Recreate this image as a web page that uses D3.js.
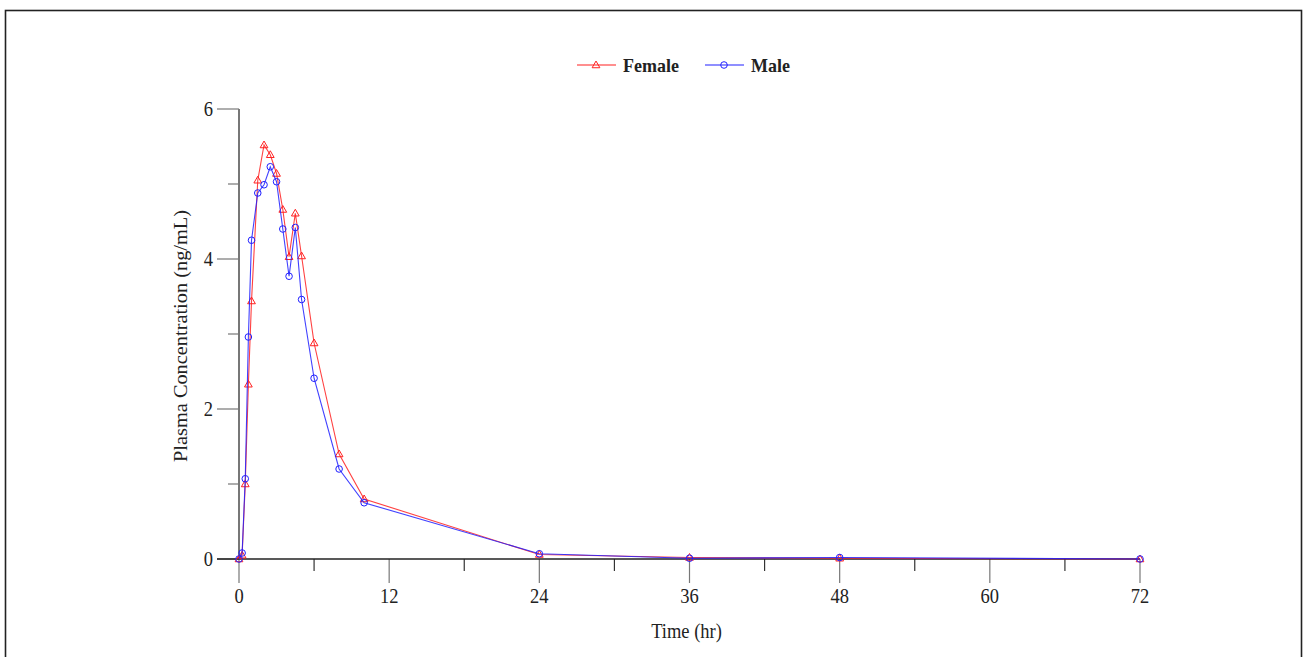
<!DOCTYPE html>
<html>
<head>
<meta charset="utf-8">
<script src="https://cdn.jsdelivr.net/npm/d3@7"></script>
<style>
  body { margin: 0; background: #fff; }
  text { font-family: "Liberation Serif", "Times New Roman", serif; fill: #222; }
</style>
</head>
<body>
<div id="chart"></div>
<script>
// sampling times (hr)
var times = [0, 0.25, 0.5, 0.75, 1, 1.5, 2, 2.5, 3, 3.5, 4, 4.5, 5, 6, 8, 10, 24, 36, 48, 72];
var female = [0, 0.05, 1.0, 2.33, 3.44, 5.05, 5.52, 5.39, 5.14, 4.66, 4.03, 4.61, 4.04, 2.88, 1.4, 0.8, 0.06, 0.02, 0.01, 0];
var male = [0, 0.08, 1.07, 2.96, 4.25, 4.88, 4.99, 5.23, 5.03, 4.4, 3.77, 4.42, 3.46, 2.41, 1.2, 0.75, 0.07, 0.01, 0.02, 0];
var xTicks = [0, 12, 24, 36, 48, 60, 72];
var yTicks = [0, 2, 4, 6];
var series = [
  {name: "Female", values: female, color: "#ff2020", marker: "triangle"},
  {name: "Male", values: male, color: "#2020ff", marker: "circle"}
];

var W = 1303, H = 657;
var FS = 18.5, STRETCH = 1.1;
var svg = d3.select("#chart").append("svg").attr("width", W).attr("height", H);

// text is slightly taller than wide in the source picture
function label(px, py, str, anchor, opts) {
  opts = opts || {};
  var g = svg.append("g").attr("transform", "translate(" + px + "," + py + ")" + (opts.rotate ? " rotate(-90) scale(" + STRETCH + ",1)" : " scale(1," + STRETCH + ")"));
  var t = g.append("text").attr("text-anchor", anchor).attr("font-size", opts.size || FS).text(str);
  if (opts.dy) t.attr("dy", opts.dy);
  if (opts.bold) t.attr("font-weight", "bold");
  return t;
}

// outer frame
svg.append("rect")
  .attr("x", 5.5).attr("y", 10.5).attr("width", 1296).attr("height", 660)
  .attr("fill", "none").attr("stroke", "#222").attr("stroke-width", 1.6);

var x = d3.scaleLinear().domain([0, 72]).range([239, 1140]);
var y = d3.scaleLinear().domain([0, 6]).range([559, 109]);

// y axis
var gy = svg.append("g");
gy.append("line").attr("x1", 239).attr("x2", 239).attr("y1", y(6)).attr("y2", y(0))
  .attr("stroke", "#777").attr("stroke-width", 2);
gy.selectAll("line.minor").data([1, 3, 5]).enter().append("line")
  .attr("x1", 228).attr("x2", 239).attr("y1", function(d){ return y(d); }).attr("y2", function(d){ return y(d); })
  .attr("stroke", "#777").attr("stroke-width", 1.2);
gy.selectAll("line.major").data(yTicks).enter().append("line")
  .attr("x1", 217).attr("x2", 239).attr("y1", function(d){ return y(d); }).attr("y2", function(d){ return y(d); })
  .attr("stroke", "#777").attr("stroke-width", 1.2);
yTicks.forEach(function(d){ label(213, y(d), d, "end", {dy: "0.35em"}); });

// x axis
var gx = svg.append("g");
gx.selectAll("line.minor").data([6, 18, 30, 42, 54, 66]).enter().append("line")
  .attr("x1", function(d){ return x(d); }).attr("x2", function(d){ return x(d); })
  .attr("y1", y(0)).attr("y2", y(0) + 12)
  .attr("stroke", "#333").attr("stroke-width", 1.2);
gx.selectAll("line.major").data(xTicks).enter().append("line")
  .attr("x1", function(d){ return x(d); }).attr("x2", function(d){ return x(d); })
  .attr("y1", y(0)).attr("y2", y(0) + 24)
  .attr("stroke", "#777").attr("stroke-width", 1.2);
gx.append("line").attr("x1", 217).attr("x2", x(72)).attr("y1", y(0)).attr("y2", y(0))
  .attr("stroke", "#222").attr("stroke-width", 1.6);
xTicks.forEach(function(d){ label(x(d), 603, d, "middle"); });

// axis titles
label(x(36) - 3, 638, "Time (hr)", "middle");
label(187, 336, "Plasma Concentration (ng/mL)", "middle", {rotate: true});

var tri = d3.symbol().type(d3.symbolTriangle).size(26);
function drawMarker(g, s, px, py) {
  if (s.marker == "triangle") {
    g.append("path").attr("d", tri()).attr("transform", "translate(" + px + "," + (py + 0.5) + ")")
      .attr("fill", "none").attr("stroke", s.color).attr("stroke-width", 1);
  } else {
    g.append("circle").attr("cx", px).attr("cy", py).attr("r", 3.3)
      .attr("fill", "none").attr("stroke", s.color).attr("stroke-width", 1);
  }
}

var line = d3.line().x(function(d){ return x(d[0]); }).y(function(d){ return y(d[1]); });

series.forEach(function(s){
  var pts = times.map(function(t, i){ return [t, s.values[i]]; });
  var g = svg.append("g");
  g.append("path").datum(pts).attr("d", line)
    .attr("fill", "none").attr("stroke", s.color).attr("stroke-width", 1.1).attr("stroke-opacity", 0.85);
  pts.forEach(function(p){ drawMarker(g, s, x(p[0]), y(p[1])); });
});

// legend
var legendX = [577, 705];
series.forEach(function(s, i){
  var g = svg.append("g");
  var lx = legendX[i];
  g.append("line").attr("x1", lx).attr("x2", lx + 39).attr("y1", 65).attr("y2", 65)
    .attr("stroke", s.color).attr("stroke-width", 1.2);
  drawMarker(g, s, lx + 19, 65);
  label(lx + 46, 65, s.name, "start", {dy: "0.35em", bold: true, size: 18});
});
</script>
</body>
</html>
